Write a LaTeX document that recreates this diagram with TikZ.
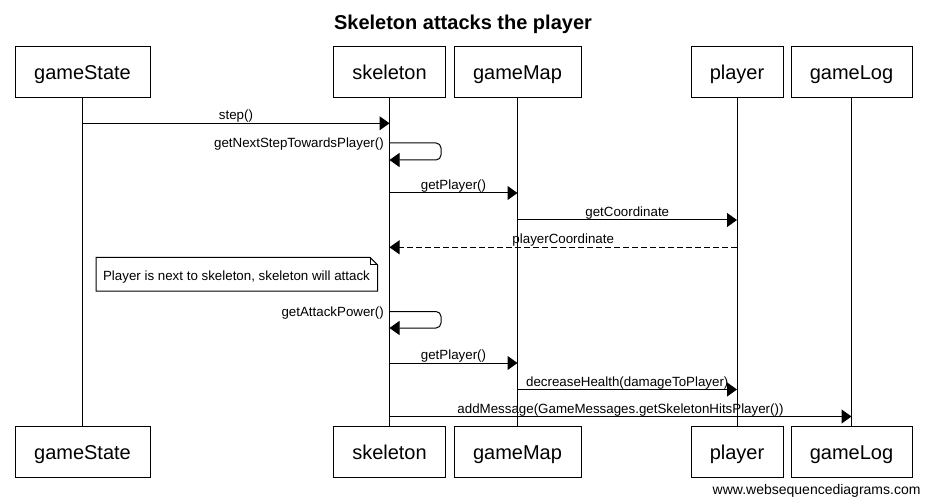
\documentclass[tikz,border=0pt]{standalone}
\usepackage{fontspec}
\setmainfont{Liberation Sans}
\usetikzlibrary{arrows.meta}
\begin{document}
\begin{tikzpicture}[x=0.75pt,y=-0.75pt,line width=0.75pt,
  box/.style={draw,minimum width=#1,minimum height=37.95pt,inner sep=0pt,
    text height=10.7pt,text depth=0pt,font=\fontsize{15}{18}\selectfont},
  life/.style={line width=0.75pt},
  msg/.style={-{Triangle[length=7.5pt,width=10.5pt]}},
  reply/.style={msg,dash pattern=on 4.5pt off 2.25pt},
  lbl/.style={font=\fontsize{10}{12}\selectfont,inner sep=0pt,anchor=base,yshift=2.6pt},
  selflbl/.style={font=\fontsize{10}{12}\selectfont,inner sep=0pt,anchor=base east,xshift=-3.9pt,yshift=-3.75pt},
  notetxt/.style={font=\fontsize{10}{12}\selectfont,inner sep=0pt,anchor=base}]
\useasboundingbox (0,0) rectangle (925,499);
% title
\node[font=\bfseries\fontsize{15}{18}\selectfont,inner sep=0pt,anchor=base] (title) at (463,30) {Skeleton attacks the player};
% participants
\node[box=101.25pt] (gsT) at (82.5,72) {gameState};
\node[box=84pt] (skT) at (389.5,72) {skeleton};
\node[box=95.25pt] (gmT) at (517.5,72) {gameMap};
\node[box=69pt] (plT) at (737,72) {player};
\node[box=90.75pt] (glT) at (851.5,72) {gameLog};
\node[box=101.25pt] (gsB) at (82.5,452) {gameState};
\node[box=84pt] (skB) at (389.5,452) {skeleton};
\node[box=95.25pt] (gmB) at (517.5,452) {gameMap};
\node[box=69pt] (plB) at (737,452) {player};
\node[box=90.75pt] (glB) at (851.5,452) {gameLog};
% lifelines
\draw[life] (gsT) -- (gsB);
\draw[life] (skT) -- (skB);
\draw[life] (gmT) -- (gmB);
\draw[life] (plT) -- (plB);
\draw[life] (glT) -- (glB);
% message rows
\coordinate (y1) at (0,123.3);
\coordinate (y2a) at (0,143);
\coordinate (y2b) at (0,160);
\coordinate (y3) at (0,193);
\coordinate (y4) at (0,220);
\coordinate (y5) at (0,247.3);
\coordinate (y6a) at (0,311.5);
\coordinate (y6b) at (0,328);
\coordinate (y7) at (0,363);
\coordinate (y8) at (0,389.5);
\coordinate (y9) at (0,416.5);
\coordinate (rx) at (441,0);
% messages
\draw[msg] (gsT |- y1) -- node[lbl] {step()} (skT |- y1);
\draw[msg,rounded corners=3.75pt] (skT |- y2a) node[selflbl] {getNextStepTowardsPlayer()}
  -- (rx |- y2a) -- (rx |- y2b) -- (skT |- y2b);
\draw[msg] (skT |- y3) -- node[lbl] {getPlayer()} (gmT |- y3);
\draw[msg] (gmT |- y4) -- node[lbl] {getCoordinate} (plT |- y4);
\draw[reply] (plT |- y5) -- node[lbl] {playerCoordinate} (skT |- y5);
% note
\node[notetxt] (note) at (236.5,280.5) {Player is next to skeleton, skeleton will attack};
\draw (96,257.3) -- (370,257.3) -- (377.5,264.8) -- (377.5,291) -- (96,291) -- cycle;
\draw (370,257.3) -- (370,264.8) -- (377.5,264.8);
\draw[msg,rounded corners=3.75pt] (skT |- y6a) node[selflbl] {getAttackPower()}
  -- (rx |- y6a) -- (rx |- y6b) -- (skT |- y6b);
\draw[msg] (skT |- y7) -- node[lbl] {getPlayer()} (gmT |- y7);
\draw[msg] (gmT |- y8) -- node[lbl] {decreaseHealth(damageToPlayer)} (plT |- y8);
\draw[msg] (skT |- y9) -- node[lbl] {addMessage(GameMessages.getSkeletonHitsPlayer())} (glT |- y9);
% footer
\node[font=\fontsize{10.5}{12}\selectfont,inner sep=0pt,anchor=base east] (foot) at (921,494) {www.websequencediagrams.com};
\end{tikzpicture}
\end{document}
